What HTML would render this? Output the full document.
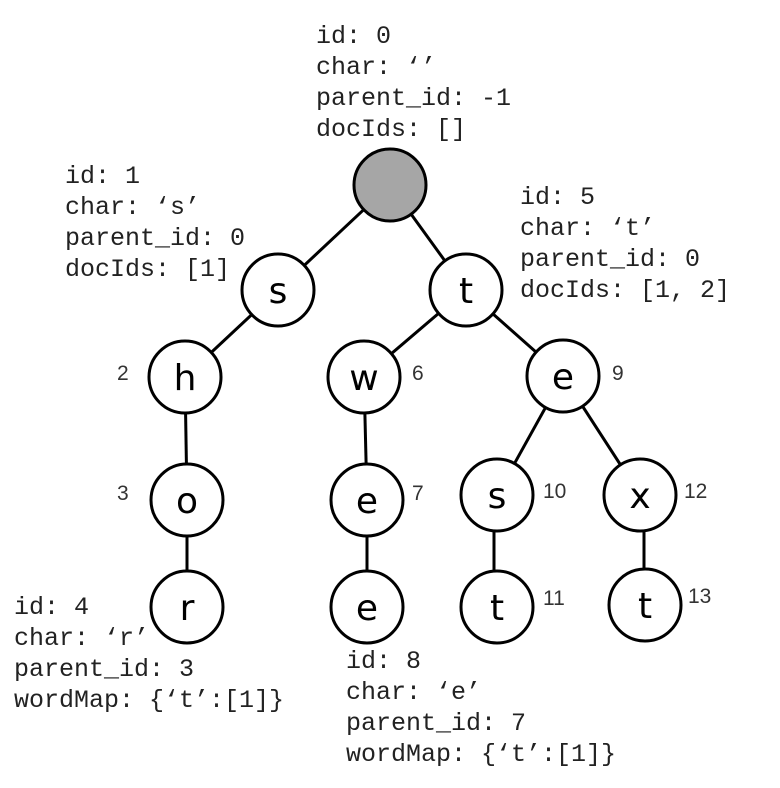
<!DOCTYPE html>
<html><head><meta charset="utf-8"><style>
html,body{margin:0;padding:0;background:#fff;}
svg{display:block;}
.m{font-family:"Liberation Mono",monospace;font-size:25px;fill:#222;}
.n{font-family:"Liberation Sans",sans-serif;font-size:21px;fill:#333;}
.l{font-family:"DejaVu Sans","Liberation Sans",sans-serif;font-size:36px;fill:#000;text-anchor:middle;}
circle{stroke:#000;stroke-width:3;fill:#fff;}
line{stroke:#000;stroke-width:3;}
</style></head><body>
<svg width="780" height="788" viewBox="0 0 780 788">
<g>
<line x1="390" y1="185" x2="278" y2="290"/>
<line x1="390" y1="185" x2="466" y2="290"/>
<line x1="278" y1="290" x2="185" y2="377"/>
<line x1="466" y1="290" x2="364" y2="377"/>
<line x1="466" y1="290" x2="563" y2="376"/>
<line x1="185" y1="377" x2="187" y2="500"/>
<line x1="187" y1="500" x2="187" y2="607"/>
<line x1="364" y1="377" x2="367" y2="500"/>
<line x1="367" y1="500" x2="367" y2="607"/>
<line x1="563" y1="376" x2="497" y2="495"/>
<line x1="563" y1="376" x2="640" y2="495"/>
<line x1="494" y1="495" x2="494" y2="607"/>
<line x1="644" y1="495" x2="644" y2="605"/>
</g>
<circle cx="390" cy="185" r="36" style="fill:#a6a6a6"/>
<circle cx="278" cy="290" r="36"/><text class="l" x="278" y="303">s</text>
<circle cx="466" cy="290" r="36"/><text class="l" x="466" y="303">t</text>
<circle cx="185" cy="377" r="36"/><text class="l" x="185" y="390">h</text>
<circle cx="364" cy="377" r="36"/><text class="l" x="364" y="390">w</text>
<circle cx="563" cy="376" r="36"/><text class="l" x="563" y="389">e</text>
<circle cx="187" cy="500" r="36"/><text class="l" x="187" y="513">o</text>
<circle cx="367" cy="500" r="36"/><text class="l" x="367" y="513">e</text>
<circle cx="497" cy="495" r="36"/><text class="l" x="497" y="508">s</text>
<circle cx="640" cy="495" r="36"/><text class="l" x="640" y="508">x</text>
<circle cx="187" cy="607" r="36"/><text class="l" x="187" y="620">r</text>
<circle cx="367" cy="607" r="36"/><text class="l" x="367" y="620">e</text>
<circle cx="497" cy="607" r="36"/><text class="l" x="497" y="620">t</text>
<circle cx="645" cy="605" r="36"/><text class="l" x="645" y="618">t</text>

<text class="n" x="117" y="380">2</text>
<text class="n" x="117" y="500">3</text>
<text class="n" x="412" y="380">6</text>
<text class="n" x="412" y="500">7</text>
<text class="n" x="612" y="380">9</text>
<text class="n" x="543" y="498">10</text>
<text class="n" x="684" y="498">12</text>
<text class="n" x="543" y="605">11</text>
<text class="n" x="688" y="603">13</text>

<g class="m">
<text x="316" y="43">id: 0</text>
<text x="316" y="74">char: ‘’</text>
<text x="316" y="105">parent_id: -1</text>
<text x="316" y="136">docIds: []</text>

<text x="65" y="183">id: 1</text>
<text x="65" y="214">char: ‘s’</text>
<text x="65" y="245">parent_id: 0</text>
<text x="65" y="276">docIds: [1]</text>

<text x="520" y="204">id: 5</text>
<text x="520" y="235">char: ‘t’</text>
<text x="520" y="266">parent_id: 0</text>
<text x="520" y="297">docIds: [1, 2]</text>

<text x="14" y="614">id: 4</text>
<text x="14" y="645">char: ‘r’</text>
<text x="14" y="676">parent_id: 3</text>
<text x="14" y="707">wordMap: {‘t’:[1]}</text>

<text x="346" y="668">id: 8</text>
<text x="346" y="699">char: ‘e’</text>
<text x="346" y="730">parent_id: 7</text>
<text x="346" y="761">wordMap: {‘t’:[1]}</text>
</g>
</svg>
</body></html>
